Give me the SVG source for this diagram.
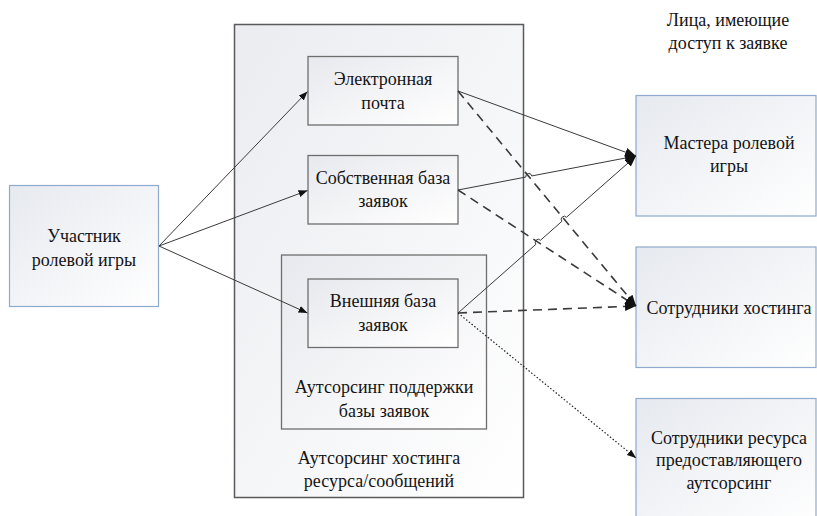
<svg xmlns="http://www.w3.org/2000/svg" width="817" height="516" viewBox="0 0 817 516" font-family="'Liberation Serif', serif">
<style>
text{font-family:"Liberation Serif",serif;font-size:18px;fill:#141414;text-anchor:middle}
.blue{fill:url(#gb);stroke:#8eaace;stroke-width:1.2}
.grey{fill:url(#gg);stroke:#6e6e6e;stroke-width:1.3}
.cont{fill:url(#gc);stroke:#5a5a5a;stroke-width:1.5}
.ln{fill:none;stroke:#3a3a3a;stroke-width:1}
.dash{fill:none;stroke:#3a3a3a;stroke-width:1.6;stroke-dasharray:9 6}
.dot{fill:none;stroke:#222;stroke-width:1.2;stroke-dasharray:1.5 2}
</style>
<defs>
<linearGradient id="gb" x1="0" y1="0" x2="1" y2="1"><stop offset="0" stop-color="#e6e9ef"/><stop offset="1" stop-color="#ffffff"/></linearGradient>
<linearGradient id="gg" x1="0" y1="0" x2="1" y2="1"><stop offset="0" stop-color="#e8e9ee"/><stop offset="1" stop-color="#ffffff"/></linearGradient>
<linearGradient id="gc" x1="0" y1="0" x2="1" y2="1"><stop offset="0" stop-color="#eaecf0"/><stop offset="1" stop-color="#ffffff"/></linearGradient>
<marker id="ah" markerUnits="userSpaceOnUse" markerWidth="12" markerHeight="10" refX="11" refY="4.5" orient="auto"><path d="M0,0 L11,4.5 L0,9 z" fill="#111"/></marker>
<marker id="ahs" markerUnits="userSpaceOnUse" markerWidth="10" markerHeight="8" refX="9" refY="3.5" orient="auto"><path d="M0,0 L9,3.5 L0,7 z" fill="#111"/></marker>
</defs>

<g id="container-hosting">
<rect class="cont" x="234.5" y="24.5" width="289" height="473"/>
<text x="379" y="464">Аутсорсинг хостинга</text>
<text x="379" y="487">ресурса/сообщений</text>
</g>
<g id="container-support">
<rect class="grey" x="281.5" y="255" width="205" height="174"/>
<text x="384" y="393">Аутсорсинг поддержки</text>
<text x="384" y="416.5">базы заявок</text>
</g>

<g id="participant">
<rect class="blue" x="9.5" y="185.5" width="149" height="121"/>
<text x="84" y="242">Участник</text>
<text x="84" y="266">ролевой игры</text>
</g>
<g id="email">
<rect class="grey" x="308" y="56.5" width="150" height="68.5"/>
<text x="383" y="85">Электронная</text>
<text x="383" y="108.5">почта</text>
</g>
<g id="own-db">
<rect class="grey" x="308" y="155.5" width="150" height="68.5"/>
<text x="383" y="183.5">Собственная база</text>
<text x="383" y="207">заявок</text>
</g>
<g id="ext-db">
<rect class="grey" x="308" y="279" width="150" height="68.5"/>
<text x="383" y="307">Внешняя база</text>
<text x="383" y="330.5">заявок</text>
</g>
<g id="header">
<text x="728" y="26">Лица, имеющие</text>
<text x="728" y="48.5">доступ к заявке</text>
</g>
<g id="masters">
<rect class="blue" x="636" y="95.5" width="180" height="120.5"/>
<text x="729" y="148.5">Мастера ролевой</text>
<text x="729" y="172">игры</text>
</g>
<g id="hosting-staff">
<rect class="blue" x="636" y="247" width="180" height="120.5"/>
<text x="729" y="313.5">Сотрудники хостинга</text>
</g>
<g id="outsourcing-staff">
<rect class="blue" x="636" y="398.5" width="180" height="130"/>
<text x="729" y="443.5">Сотрудники ресурса</text>
<text x="729" y="465.5">предоставляющего</text>
<text x="729" y="488.5">аутсорсинг</text>
</g>

<g id="connectors">
<line class="ln" x1="159" y1="246" x2="307.5" y2="91.5" marker-end="url(#ahs)"/>
<line class="ln" x1="159" y1="246" x2="307.5" y2="190.5" marker-end="url(#ahs)"/>
<line class="ln" x1="159" y1="246" x2="307.5" y2="313" marker-end="url(#ahs)"/>
<path class="ln" d="M458,91 L636,156" marker-end="url(#ah)"/>
<path class="dash" d="M458,91 L636,306" marker-end="url(#ah)"/>
<path class="ln" d="M458,190 L525.85,177.06 A3,3 0 0 1 531.75,175.94 L636,156" marker-end="url(#ah)"/>
<path class="dash" d="M458,190 L636,306" marker-end="url(#ah)"/>
<path class="ln" d="M458,313 L535.95,244.29 A3,3 0 0 1 540.45,240.31 L561.95,221.29 A3,3 0 0 1 566.45,217.31 L636,156" marker-end="url(#ah)"/>
<path class="dash" d="M458,313 L636,306" marker-end="url(#ah)"/>
<path class="dot" d="M458,313 L636,458" marker-end="url(#ahs)"/>
</g>
</svg>
